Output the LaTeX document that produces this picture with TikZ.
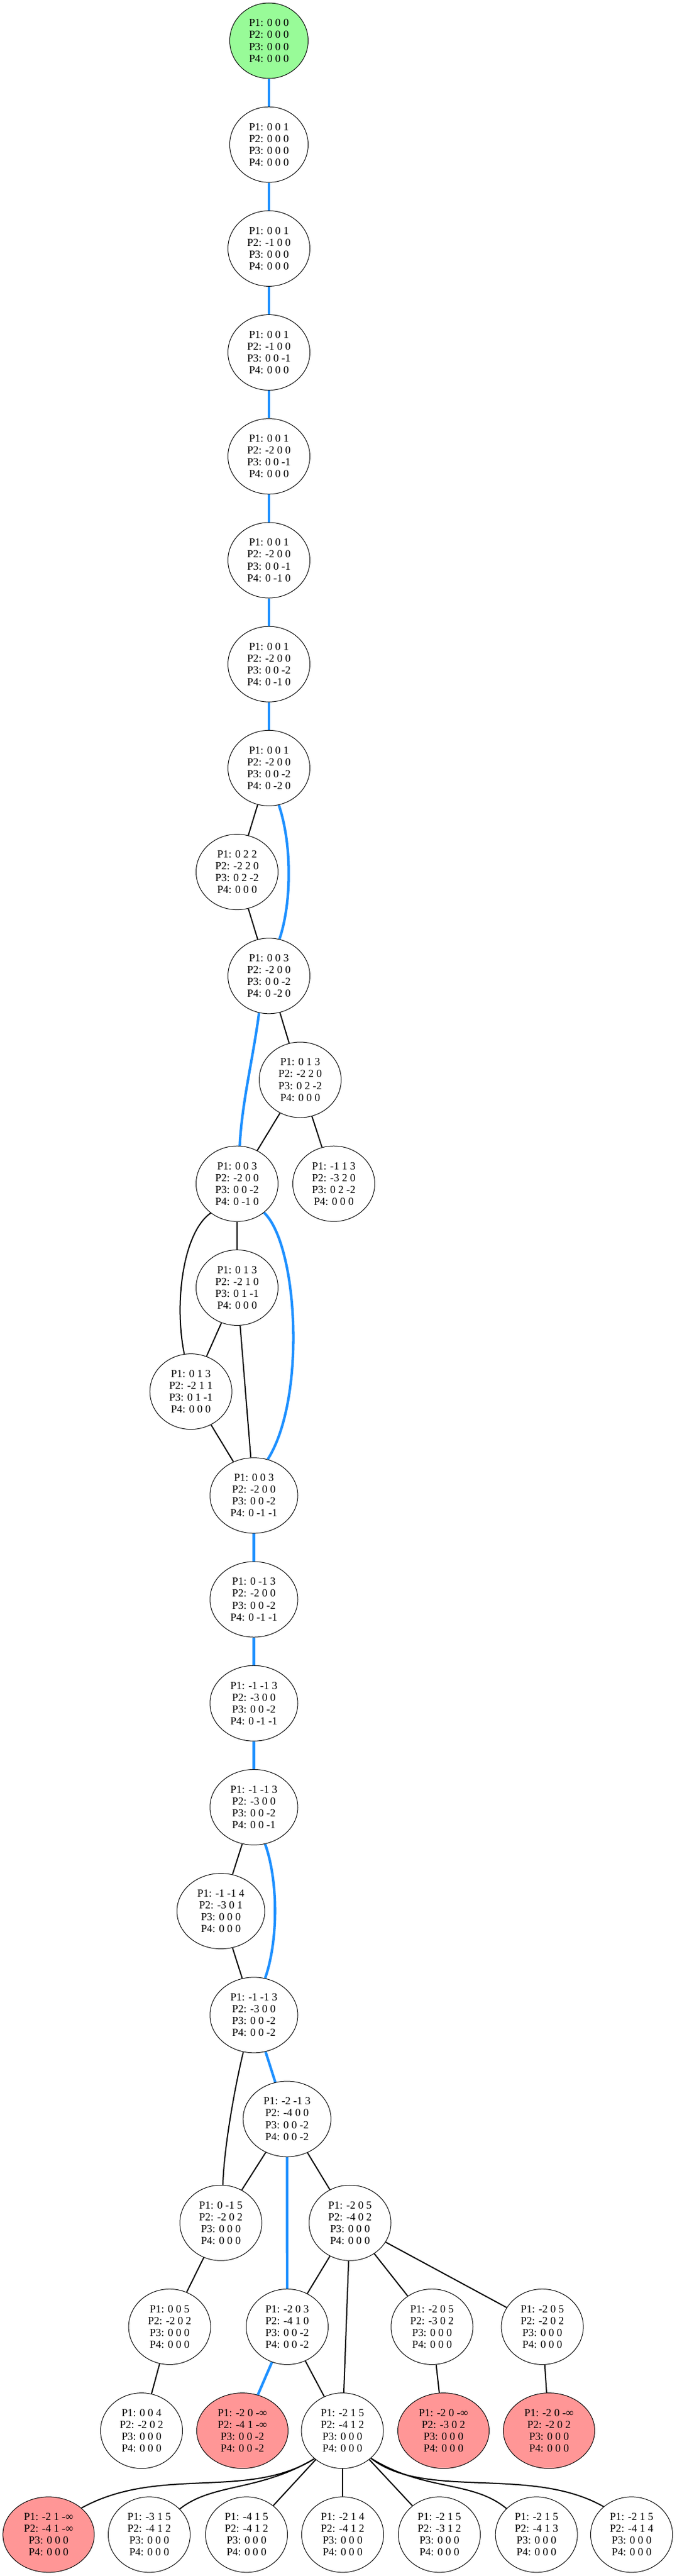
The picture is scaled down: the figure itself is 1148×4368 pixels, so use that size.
\documentclass[tikz,border=0pt]{standalone}
\usepackage{fontspec}
\setmainfont{Liberation Serif}
\usetikzlibrary{shapes.geometric}
\definecolor{dodger}{HTML}{1E90FF}
\definecolor{palegrn}{HTML}{98FB98}
\definecolor{deadpink}{HTML}{FF9696}
\pgfdeclarelayer{bg}
\pgfsetlayers{bg,main}
\newcommand\plab[4]{P1: #1\\P2: #2\\P3: #3\\P4: #4}
\begin{document}
\begin{tikzpicture}[x=1pt,y=-1pt,
  st/.style={ellipse, draw=black, line width=1pt, inner sep=0pt, fill=white,
    minimum width=139pt, minimum height=128pt, align=center,
    font=\fontsize{18.4}{20.1}\selectfont},
  wd/.style={minimum width=149pt},
  nw/.style={minimum width=133pt},
  inf/.style={minimum width=155pt, fill=deadpink},
  start/.style={fill=palegrn},
  be/.style={draw=dodger, line width=4.3pt},
  ke/.style={draw=black, line width=2pt}]
\useasboundingbox (0,0) rectangle (1148,4368);
% chain
\node[st,nw,start] (A0) at (456,69) {\plab{0 0 0}{0 0 0}{0 0 0}{0 0 0}};
\node[st,nw] (A1) at (456,245.2) {\plab{0 0 1}{0 0 0}{0 0 0}{0 0 0}};
\node[st] (A2) at (456,421.4) {\plab{0 0 1}{-1 0 0}{0 0 0}{0 0 0}};
\node[st] (A3) at (456,597.6) {\plab{0 0 1}{-1 0 0}{0 0 -1}{0 0 0}};
\node[st] (A4) at (456,773.8) {\plab{0 0 1}{-2 0 0}{0 0 -1}{0 0 0}};
\node[st] (A5) at (456,950) {\plab{0 0 1}{-2 0 0}{0 0 -1}{0 -1 0}};
\node[st] (A6) at (456,1126.2) {\plab{0 0 1}{-2 0 0}{0 0 -2}{0 -1 0}};
\node[st] (A7) at (456,1302.4) {\plab{0 0 1}{-2 0 0}{0 0 -2}{0 -2 0}};
\node[st] (B) at (402,1478.6) {\plab{0 2 2}{-2 2 0}{0 2 -2}{0 0 0}};
\node[st] (C) at (456,1654.8) {\plab{0 0 3}{-2 0 0}{0 0 -2}{0 -2 0}};
\node[st] (D) at (509,1831) {\plab{0 1 3}{-2 2 0}{0 2 -2}{0 0 0}};
\node[st] (E) at (402,2007.2) {\plab{0 0 3}{-2 0 0}{0 0 -2}{0 -1 0}};
\node[st] (F) at (566,2007.2) {\plab{-1 1 3}{-3 2 0}{0 2 -2}{0 0 0}};
\node[st] (G) at (402,2183.4) {\plab{0 1 3}{-2 1 0}{0 1 -1}{0 0 0}};
\node[st] (H) at (323.7,2359.6) {\plab{0 1 3}{-2 1 1}{0 1 -1}{0 0 0}};
\node[st,wd] (I) at (430.5,2535.8) {\plab{0 0 3}{-2 0 0}{0 0 -2}{0 -1 -1}};
\node[st,wd] (J) at (430.5,2712) {\plab{0 -1 3}{-2 0 0}{0 0 -2}{0 -1 -1}};
\node[st,wd] (K) at (430.5,2888.2) {\plab{-1 -1 3}{-3 0 0}{0 0 -2}{0 -1 -1}};
\node[st,wd] (L) at (430.5,3064.4) {\plab{-1 -1 3}{-3 0 0}{0 0 -2}{0 0 -1}};
\node[st,wd] (M) at (374.5,3240.6) {\plab{-1 -1 4}{-3 0 1}{0 0 0}{0 0 0}};
\node[st,wd] (N) at (430.5,3416.8) {\plab{-1 -1 3}{-3 0 0}{0 0 -2}{0 0 -2}};
\node[st,wd] (O) at (486.7,3593) {\plab{-2 -1 3}{-4 0 0}{0 0 -2}{0 0 -2}};
\node[st] (P) at (374.5,3769.2) {\plab{0 -1 5}{-2 0 2}{0 0 0}{0 0 0}};
\node[st] (Q) at (593.5,3769.2) {\plab{-2 0 5}{-4 0 2}{0 0 0}{0 0 0}};
\node[st] (R) at (287.6,3945.4) {\plab{0 0 5}{-2 0 2}{0 0 0}{0 0 0}};
\node[st] (S) at (487,3945.4) {\plab{-2 0 3}{-4 1 0}{0 0 -2}{0 0 -2}};
\node[st] (T) at (732.5,3945.4) {\plab{-2 0 5}{-3 0 2}{0 0 0}{0 0 0}};
\node[st] (U) at (919.6,3945.4) {\plab{-2 0 5}{-2 0 2}{0 0 0}{0 0 0}};
\node[st] (V) at (240,4121.6) {\plab{0 0 4}{-2 0 2}{0 0 0}{0 0 0}};
\node[st,inf] (W) at (411,4121.6) {\plab{-2 0 -∞}{-4 1 -∞}{0 0 -2}{0 0 -2}};
\node[st] (X) at (580.6,4121.6) {\plab{-2 1 5}{-4 1 2}{0 0 0}{0 0 0}};
\node[st,inf] (Y) at (752,4121.6) {\plab{-2 0 -∞}{-3 0 2}{0 0 0}{0 0 0}};
\node[st,inf] (Z) at (931,4121.6) {\plab{-2 0 -∞}{-2 0 2}{0 0 0}{0 0 0}};
\node[st,inf] (Z1) at (82.4,4297.8) {\plab{-2 1 -∞}{-4 1 -∞}{0 0 0}{0 0 0}};
\node[st] (Z2) at (253,4297.8) {\plab{-3 1 5}{-4 1 2}{0 0 0}{0 0 0}};
\node[st] (Z3) at (418,4297.8) {\plab{-4 1 5}{-4 1 2}{0 0 0}{0 0 0}};
\node[st] (Z4) at (581,4297.8) {\plab{-2 1 4}{-4 1 2}{0 0 0}{0 0 0}};
\node[st] (Z5) at (745,4297.8) {\plab{-2 1 5}{-3 1 2}{0 0 0}{0 0 0}};
\node[st] (Z6) at (909.7,4297.8) {\plab{-2 1 5}{-4 1 3}{0 0 0}{0 0 0}};
\node[st] (Z7) at (1071,4297.8) {\plab{-2 1 5}{-4 1 4}{0 0 0}{0 0 0}};
\begin{pgfonlayer}{bg}
% blue path edges
\draw[be] (A0) -- (A1);
\draw[be] (A1) -- (A2);
\draw[be] (A2) -- (A3);
\draw[be] (A3) -- (A4);
\draw[be] (A4) -- (A5);
\draw[be] (A5) -- (A6);
\draw[be] (A6) -- (A7);
\draw[be] (A7.-75) .. controls (495,1430) and (495,1530) .. (C.74);
\draw[be] (C.-105) .. controls (430,1790) and (410,1870) .. (E.86);
\draw[be] (E.-47.5) .. controls (505,2110) and (520,2370) .. (I.69);
\draw[be] (I) -- (J);
\draw[be] (J) -- (K);
\draw[be] (K) -- (L);
\draw[be] (L.-73.4) .. controls (472,3190) and (472,3290) .. (N.73.2);
\draw[be] (N) -- (O);
\draw[be] (O) -- (S);
\draw[be] (S) -- (W);
% black edges
\draw[ke] (A7) -- (B);
\draw[ke] (B) -- (C);
\draw[ke] (C) -- (D);
\draw[ke] (D) -- (E);
\draw[ke] (D) -- (F);
\draw[ke] (E) -- (G);
\draw[ke] (E.-132) .. controls (310,2090) and (295,2210) .. (H.100);
\draw[ke] (G) -- (H);
\draw[ke] (G) -- (I);
\draw[ke] (H) -- (I);
\draw[ke] (L) -- (M);
\draw[ke] (M) -- (N);
\draw[ke] (N.-106.7) .. controls (398,3540) and (380,3640) .. (P.87);
\draw[ke] (O) -- (P);
\draw[ke] (O) -- (Q);
\draw[ke] (P) -- (R);
\draw[ke] (Q) -- (S);
\draw[ke] (Q) -- (X);
\draw[ke] (Q) -- (T);
\draw[ke] (Q) -- (U);
\draw[ke] (R) -- (V);
\draw[ke] (S) -- (X);
\draw[ke] (T) -- (Y);
\draw[ke] (U) -- (Z);
\draw[ke] (X.-135) .. controls (420,4240) and (270,4180) .. (Z1.39.5);
\draw[ke] (X.-135) .. controls (440,4225) and (360,4210) .. (Z2.40.3);
\draw[ke] (X) -- (Z3);
\draw[ke] (X) -- (Z4);
\draw[ke] (X) -- (Z5);
\draw[ke] (X.-44.4) .. controls (720,4225) and (800,4205) .. (Z6.139.7);
\draw[ke] (X.-44.4) .. controls (720,4240) and (900,4180) .. (Z7.135.7);
\end{pgfonlayer}
\end{tikzpicture}
\end{document}
